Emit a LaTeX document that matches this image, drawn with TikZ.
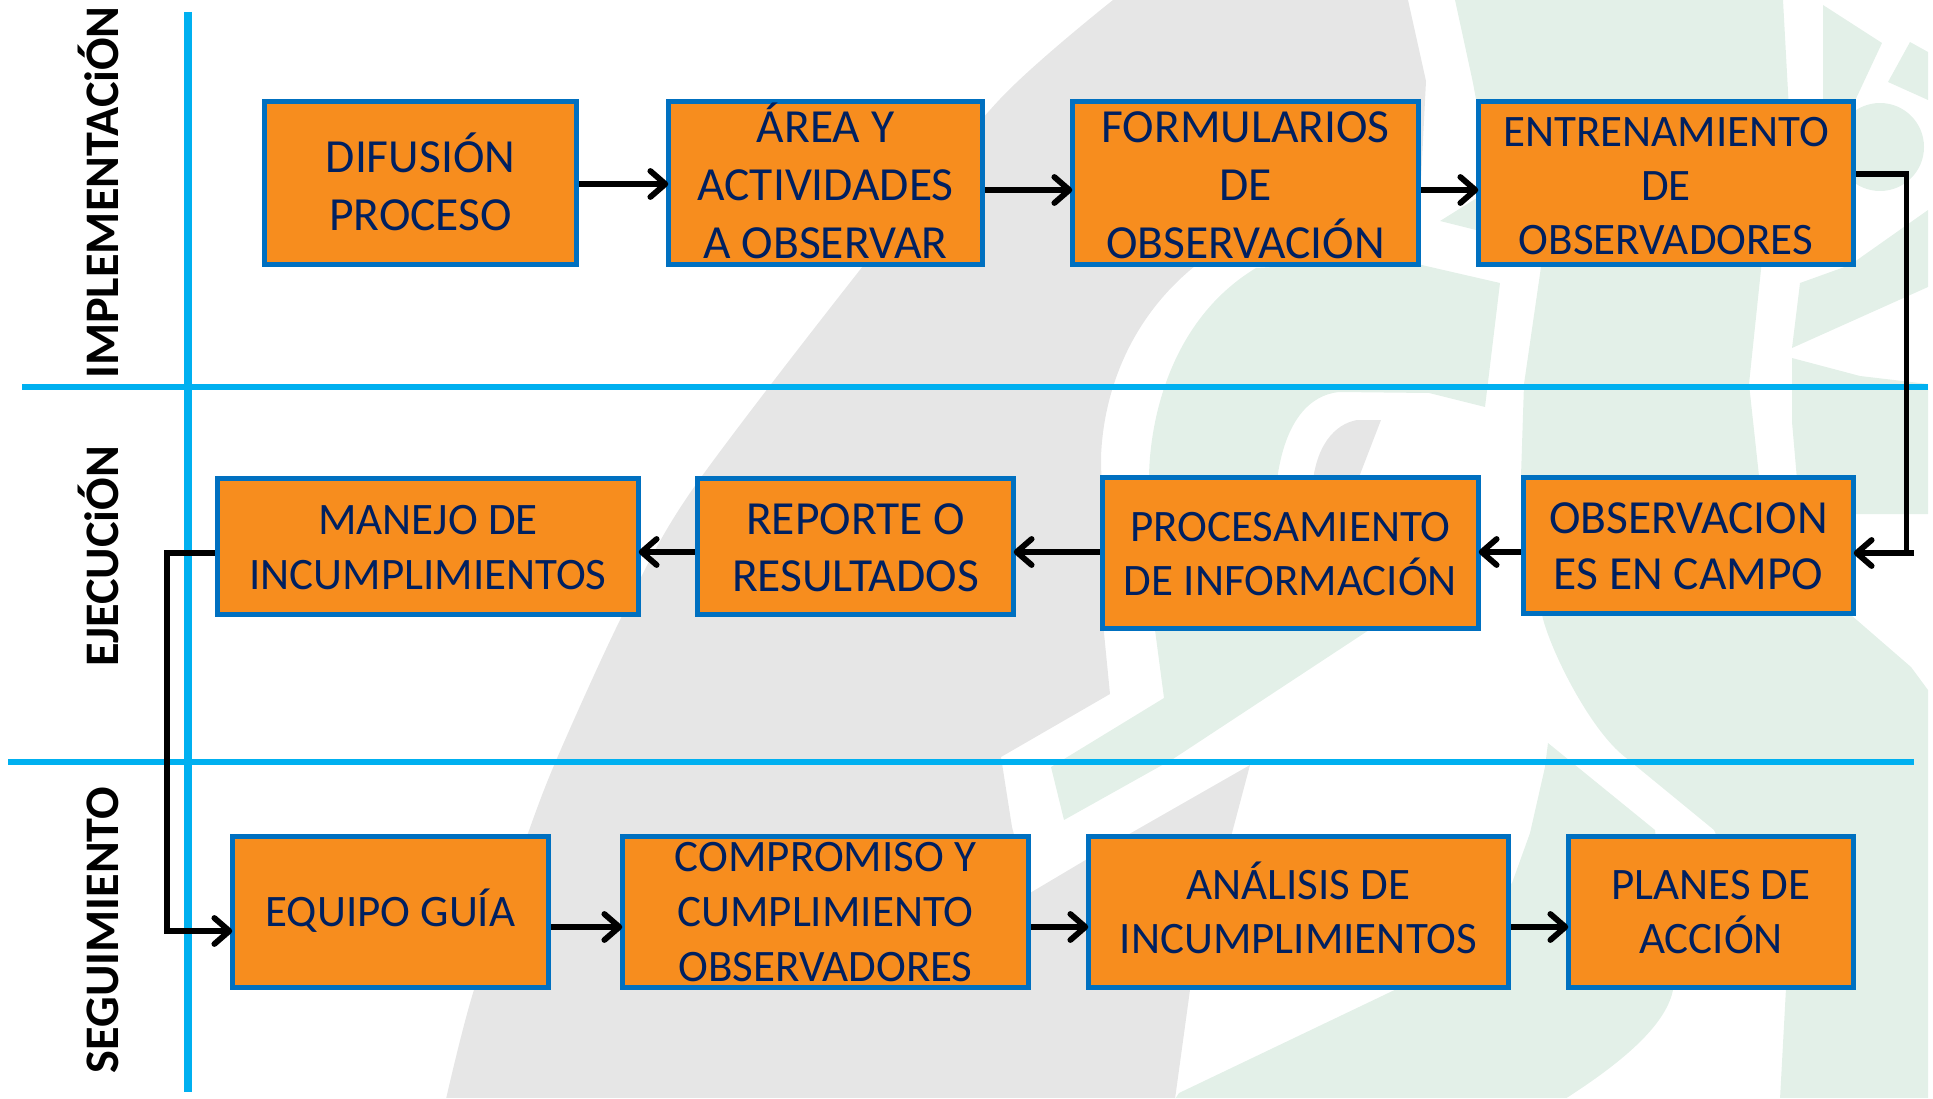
\documentclass[tikz,border=0pt]{standalone}
\usepackage{fontspec}
\setmainfont{Carlito}
\usetikzlibrary{arrows.meta}
\definecolor{bgray}{HTML}{E6E6E6}
\definecolor{bgreen}{HTML}{E3F0E8}
\definecolor{boxfill}{HTML}{F78D1E}
\definecolor{boxline}{HTML}{0070C0}
\definecolor{boxtext}{HTML}{002060}
\definecolor{lanecol}{HTML}{00B0F0}
\tikzset{
  flowbox/.style={draw=boxline,fill=boxfill,line width=5pt,text=boxtext,align=center,inner sep=0pt,text depth=0pt},
  big/.style={flowbox,font=\fontsize{47.5}{#1}\selectfont},
  small/.style={flowbox,font=\fontsize{45}{#1}\selectfont},
  lanelabel/.style={rotate=90,anchor=base,font=\fontsize{48.2}{52}\selectfont\bfseries,text=black},
  lane/.style={draw=lanecol,line width=6pt},
  conn/.style={draw=black,line width=5.8pt},
  arr/.style={conn,shorten >=-2.5pt,-{Straight Barb[length=15pt,width=26pt,round]}},
  bggray/.style={fill=bgray,draw=none},
  bggreen/.style={fill=bgreen,draw=none}
}
\begin{document}
\begin{tikzpicture}[x=1pt,y=-1pt]
\useasboundingbox (0,0) rectangle (1933,1099);
% background watermark
\begin{scope}
\clip (0,0) rectangle (1928,1097);
\fill[bggray] plot[smooth,tension=.5] coordinates {(1113,0) (1000,99) (863,266) (690,493) (622,616) (558,756) (527,836) (473,993) (446,1099)}
  -- (1175,1099) -- (1190,990) -- (1232,833) -- (1250,765) -- (1131,833) -- (1030,893) -- (1026,880) -- (1012,827) -- (1001,757) -- (1110,694) -- (1104,633)
  -- (1101,457) .. controls (1103,400) and (1125,320) .. (1200,262) -- (1420,200) -- (1426,81) -- (1408,0) -- cycle;
\fill[bggray] (1381,420) -- (1357,420) .. controls (1335,424) and (1315,445) .. (1312,490) -- (1354,490) -- cycle;
% top green
\fill[bggreen] (1455,0) -- (1473,83) -- (1478,110) -- (1789,110) -- (1783,0) -- cycle;
\fill[bggreen] (1440,221) -- (1480,196) -- (1480,231) -- cycle;
\fill[bggreen] (1823,5) -- (1882,43) -- (1853,105) -- (1823,105) -- cycle;
\fill[bggreen] (1910,42) -- (1928,52) -- (1928,100) -- (1888,82) -- cycle;
\fill[bggreen] (1880,147) circle[radius=44];
\fill[bggreen] (1800,283) -- (1850,265) -- (1928,210) -- (1928,287) -- (1792,348) -- cycle;
\fill[bggreen] (1792,358) -- (1860,376) -- (1928,384) -- (1928,514) -- (1800,514) -- (1792,422) -- cycle;
% central green
\fill[bggreen] (1256,268) -- (1400,260) -- (1500,283) -- (1485,407) -- (1429,393) -- (1339,392)
  .. controls (1310,395) and (1285,420) .. (1277,480) -- (1369,630) -- (1173,759) -- (1064,820) -- (1051,767) -- (1164,698) -- (1155,630) -- (1149,476)
  .. controls (1150,420) and (1170,320) .. (1256,268) -- cycle;
% right green
\fill[bggreen] (1542,260) -- (1524,384) -- (1521,476) -- (1542,615) .. controls (1550,650) and (1590,730) .. (1625,757) -- (1714,830) -- (1786,988) -- (1780,1099) -- (1928,1099) -- (1928,690) -- (1911,667) -- (1851,615) -- (1759,476) -- (1749,384) -- (1762,260) -- cycle;
% lower green
\fill[bggreen] (1548,743) -- (1655,830) -- (1673,990) .. controls (1665,1030) and (1610,1070) .. (1565,1099) -- (1175,1099) -- (1179,1093) -- (1405,985) -- (1512,883) -- (1530,833) -- (1545,767) -- cycle;
\end{scope}
% lane lines
\coordinate (h1a) at (22,387); \coordinate (h1b) at (1928,387);
\coordinate (h2a) at (8,762);  \coordinate (h2b) at (1914,762);
\coordinate (v1a) at (188,12); \coordinate (v1b) at (188,1092);
\draw[lane] (h1a) -- (h1b);
\draw[lane] (h2a) -- (h2b);
\draw[lane,line width=8pt] (v1a) -- (v1b);
% lane labels
\node[lanelabel] (l1) at (118,192.5) {IMPLEMENTACiÓN};
\node[lanelabel] (l2) at (118,556.5) {EJECUCiÓN};
\node[lanelabel] (l3) at (118,930) {SEGUIMIENTO};
% row 1
\node[big=58,text height=93.6pt,minimum width=312.5pt,minimum height=163pt] (b1) at (420.5,183.5) {DIFUSIÓN\\PROCESO};
\node[big=58,text height=151pt,minimum width=314.5pt,minimum height=163pt] (b2) at (825.5,183.5) {ÁREA Y\\ACTIVIDADES\\A OBSERVAR};
\node[big=58,text height=151pt,minimum width=346.5pt,minimum height=163pt] (b3) at (1245.5,183.5) {FORMULARIOS\\DE\\OBSERVACIÓN};
\node[small=54,text height=142pt,minimum width=375.5pt,minimum height=163pt] (b4) at (1666,183.5) {ENTRENAMIENTO\\DE\\OBSERVADORES};
% row 2
\node[big=56.5,text height=89pt,minimum width=330.5pt,minimum height=136pt] (o) at (1688.5,545) {OBSERVACION\\ES EN CAMPO};
\node[small=54,text height=85pt,minimum width=376.5pt,minimum height=151pt] (p) at (1290.5,553) {PROCESAMIENTO\\DE INFORMACIÓN};
\node[big=56.5,text height=89pt,minimum width=316.5pt,minimum height=136pt] (r) at (855.5,546.5) {REPORTE O\\RESULTADOS};
\node[small=55,text height=86pt,minimum width=421.5pt,minimum height=136pt] (m) at (428,546) {MANEJO DE\\INCUMPLIMIENTOS};
% row 3
\node[small=55,text height=29pt,minimum width=316.5pt,minimum height=151pt] (e) at (390.5,911.5) {EQUIPO GUÍA};
\node[small=55,text height=139pt,minimum width=406.5pt,minimum height=151pt] (c) at (825.5,911.5) {COMPROMISO Y\\CUMPLIMIENTO\\OBSERVADORES};
\node[small=54,text height=83pt,minimum width=420.5pt,minimum height=151pt] (a) at (1298.5,911.5) {ANÁLISIS DE\\INCUMPLIMIENTOS};
\node[small=54,text height=83pt,minimum width=285.5pt,minimum height=151pt] (pl) at (1711,911.5) {PLANES DE\\ACCIÓN};
% connectors
\coordinate (y1) at (0,184); \coordinate (y2) at (0,190); \coordinate (y3) at (0,174);
\coordinate (y4) at (0,552); \coordinate (y5) at (0,927);
\coordinate (rk) at (1906.5,553); \coordinate (rs) at (1914,553);
\coordinate (lk) at (167,553); \coordinate (lb) at (167,931);
\draw[arr] (b1.east |- y1) -- (b2.west |- y1);
\draw[arr] (b2.east |- y2) -- (b3.west |- y2);
\draw[arr] (b3.east |- y2) -- (b4.west |- y2);
\draw[conn] (b4.east |- y3) -| (rk);
\draw[arr] (rs) -- (o.east |- rs);
\draw[arr] (o.west |- y4) -- (p.east |- y4);
\draw[arr] (p.west |- y4) -- (r.east |- y4);
\draw[arr] (r.west |- y4) -- (m.east |- y4);
\draw[arr] (m.west |- lk) -- (lk) -- (lb) -- (e.west |- lb);
\draw[arr] (e.east |- y5) -- (c.west |- y5);
\draw[arr] (c.east |- y5) -- (a.west |- y5);
\draw[arr] (a.east |- y5) -- (pl.west |- y5);
\end{tikzpicture}
\end{document}
